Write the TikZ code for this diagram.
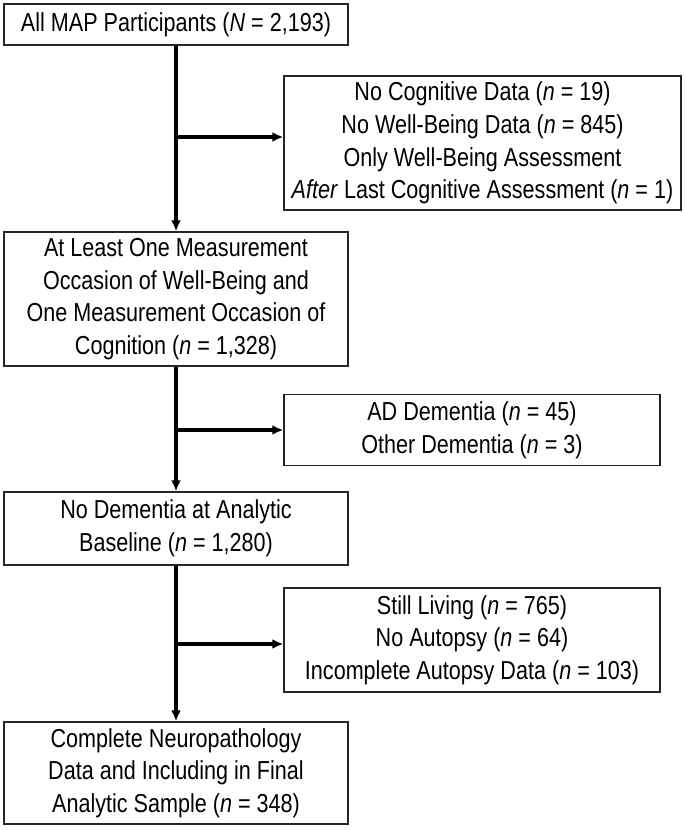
\documentclass[tikz,border=0pt]{standalone}
\usepackage{fontspec}
\setmainfont{Liberation Sans}[FakeStretch=0.83]
\usetikzlibrary{arrows.meta,positioning}

\begin{document}
\begin{tikzpicture}[x=1pt, y=-1pt,
    box/.style={draw=black!85, line width=1.4pt, rectangle, inner sep=0pt, align=center,
                font=\fontsize{26}{32.7}\selectfont},
    flow/.style={line width=3.2pt, -{Latex[length=11pt,width=10pt]}}]
  \useasboundingbox (0,0) rectangle (685,830);

  % main column
  \node[box, minimum width=344pt, minimum height=41pt] (all) at (176,24.5) {All MAP Participants (\textit{N} = 2,193)};
  \node[box, minimum width=344pt, minimum height=134pt] (both) at (176,299) {At Least One Measurement\\Occasion of Well-Being and\\One Measurement Occasion of\\Cognition (\textit{n} = 1,328)};
  \node[box, minimum width=344pt, minimum height=73pt] (nodem) at (176,528.5) {No Dementia at Analytic\\Baseline (\textit{n} = 1,280)};
  \node[box, minimum width=344pt, minimum height=102pt] (final) at (176,773) {Complete Neuropathology\\Data and Including in Final\\Analytic Sample (\textit{n} = 348)};

  % exclusions
  \node[box, minimum width=397pt, minimum height=134pt] (excl1) at (482.5,143) {No Cognitive Data (\textit{n} = 19)\\No Well-Being Data (\textit{n} = 845)\\Only Well-Being Assessment\\\textit{After} Last Cognitive Assessment (\textit{n} = 1)};
  \node[box, minimum width=376pt, minimum height=71pt] (excl2) at (472,430) {AD Dementia (\textit{n} = 45)\\Other Dementia (\textit{n} = 3)};
  \node[box, minimum width=376pt, minimum height=104pt] (excl3) at (472,640) {Still Living (\textit{n} = 765)\\No Autopsy (\textit{n} = 64)\\Incomplete Autopsy Data (\textit{n} = 103)};

  \coordinate (j1) at (176,137);
  \coordinate (j2) at (176,430);
  \coordinate (j3) at (176,644);

  \draw[flow] (all) -- (both);
  \draw[flow] (both) -- (nodem);
  \draw[flow] (nodem) -- (final);
  \draw[flow] (j1) -- (j1 -| excl1.west);
  \draw[flow] (j2) -- (j2 -| excl2.west);
  \draw[flow] (j3) -- (j3 -| excl3.west);
\end{tikzpicture}
\end{document}
